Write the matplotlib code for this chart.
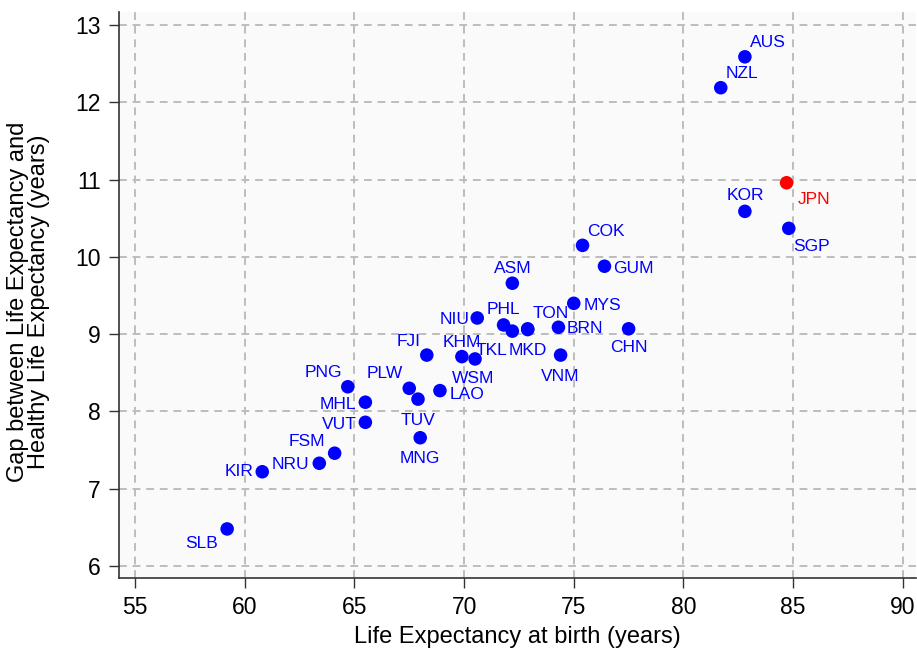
import matplotlib
matplotlib.use("Agg")
import matplotlib.pyplot as plt

# Life expectancy at birth vs gap to healthy life expectancy (years)
countries = ["AUS", "NZL", "JPN", "KOR", "SGP", "COK", "GUM", "ASM", "MYS", "NIU",
             "PHL", "TKL", "TON", "MKD", "BRN", "CHN", "VNM", "FJI", "KHM", "WSM",
             "LAO", "PNG", "PLW", "TUV", "MHL", "VUT", "MNG", "FSM", "NRU", "KIR", "SLB"]
life_exp = [82.8, 81.7, 84.7, 82.8, 84.8, 75.4, 76.4, 72.2, 75.0, 70.6,
            71.8, 72.2, 72.9, 72.9, 74.3, 77.5, 74.4, 68.3, 69.9, 70.5,
            68.9, 64.7, 67.5, 67.9, 65.5, 65.5, 68.0, 64.1, 63.4, 60.8, 59.2]
gap = [12.59, 12.19, 10.96, 10.59, 10.37, 10.15, 9.88, 9.66, 9.40, 9.21,
       9.12, 9.04, 9.07, 9.06, 9.09, 9.07, 8.73, 8.73, 8.71, 8.68,
       8.27, 8.32, 8.30, 8.16, 8.12, 7.86, 7.66, 7.46, 7.33, 7.22, 6.48]
highlight = "JPN"

# label placement, offsets in pixels (right, down) like marker-label clock positions
label_offset = {
    "AUS": (23, -14), "NZL": (21, -14), "JPN": (28, 17), "KOR": (0, -16),
    "SGP": (23, 18), "COK": (23, -14), "GUM": (29, 2), "ASM": (0, -15),
    "MYS": (29, 2), "NIU": (-23, 2), "PHL": (0, -15), "TKL": (-21, 19),
    "TON": (23, -15), "MKD": (0, 21), "BRN": (26, 1), "CHN": (0, 19),
    "VNM": (0, 21), "FJI": (-18, -14), "KHM": (0, -14), "WSM": (-2, 20),
    "LAO": (27, 4), "PNG": (-24, -14), "PLW": (-24, -15), "TUV": (0, 21),
    "MHL": (-27, 2), "VUT": (-26, 2), "MNG": (0, 21), "FSM": (-28, -12),
    "NRU": (-29, 1), "KIR": (-23, 0), "SLB": (-26, 15),
}

plt.rcParams["font.family"] = ["Liberation Sans", "DejaVu Sans"]

fig = plt.figure(figsize=(9.17, 6.52), dpi=100)
ax = fig.add_axes([119 / 917, 74 / 652, 797 / 917, 566 / 652])
ax.set_facecolor("#fafafa")

colors = ["red" if c == highlight else "blue" for c in countries]
ax.scatter(life_exp, gap, s=95, c=colors, edgecolors="none", zorder=3)

for c, x, y, col in zip(countries, life_exp, gap, colors):
    dx, dy = label_offset[c]
    ax.annotate(c, (x, y), xytext=(dx, -dy), textcoords="offset pixels",
                ha="center", va="center", fontsize=12.5, color=col, zorder=4)

ax.set_xlim(54.27, 90.6)
ax.set_ylim(5.845, 13.17)
ax.set_xticks(range(55, 91, 5))
ax.set_yticks(range(6, 14))
ax.grid(True, color="#bdbdbd", linestyle=(0, (4, 3)), linewidth=1.4)
ax.set_axisbelow(True)

for side in ["top", "right"]:
    ax.spines[side].set_visible(False)
for side in ["left", "bottom"]:
    ax.spines[side].set_color("#333333")
    ax.spines[side].set_linewidth(1.2)

ax.tick_params(axis="both", length=7, width=1, color="#333333", labelsize=16.5, pad=6)
ax.set_xlabel("Life Expectancy at birth (years)", fontsize=17, labelpad=5)
ax.set_ylabel("Gap between Life Expectancy and\nHealthy Life Expectancy (years)",
              fontsize=17, linespacing=0.95)
ax.yaxis.set_label_coords(-0.086, 0.488)

fig.savefig("out.png", dpi=100, facecolor="white")
